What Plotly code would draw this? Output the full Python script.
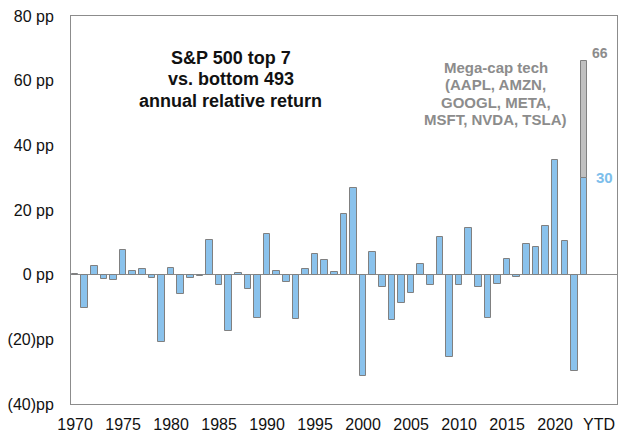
import plotly.graph_objects as go

# S&P 500 top 7 vs bottom 493, annual relative return (pp)
years = list(range(1970, 2023))
rel_return = [
    0.3, -10.4, 2.6, -1.3, -1.7, 7.7, 1.1, 1.7, -1.0, -20.7,
    2.2, -5.9, -0.9, -0.3, 10.8, -3.3, -17.5, 0.5, -4.3, -13.4,
    12.7, 1.0, -2.4, -13.6, 1.9, 6.5, 4.5, 0.7, 18.8, 26.9,
    -31.2, 7.0, -3.8, -14.1, -8.8, -5.6, 3.3, -3.2, 11.6, -25.5,
    -3.2, 14.3, -3.7, -13.5, -3.0, 4.9, -0.6, 9.5, 8.7, 15.1,
    35.6, 10.4, -29.7,
]
ytd_pos = 2023
ytd_blue = 30
ytd_total = 66

y_ticks = [80, 60, 40, 20, 0, -20, -40]
y_labels = ["80 pp", "60 pp", "40 pp", "20 pp", "0 pp", "(20)pp", "(40)pp"]
x_ticks = list(range(1970, 2021, 5))

title_lines = ["S&P 500 top 7", "vs. bottom 493", "annual relative return"]
note_lines = ["Mega-cap tech", "(AAPL, AMZN,", "GOOGL, META,", "MSFT, NVDA, TSLA)"]

BLUE = "#8AC2EC"
GRAY_BAR = "#C0C0C0"
EDGE = "#808080"
TXT_GRAY = "#8C8C8C"
FONT = "Arial, Liberation Sans, sans-serif"

fig = go.Figure()

fig.add_trace(go.Bar(
    x=years + [ytd_pos],
    y=rel_return + [ytd_blue],
    width=0.68,
    marker=dict(color=BLUE, line=dict(color=EDGE, width=1)),
    showlegend=False,
))
fig.add_trace(go.Bar(
    x=[ytd_pos],
    y=[ytd_total - ytd_blue],
    width=0.68,
    marker=dict(color=GRAY_BAR, line=dict(color=EDGE, width=1)),
    showlegend=False,
))

# value labels on YTD bar
fig.add_annotation(x=ytd_pos, y=ytd_total, text="<b>66</b>", showarrow=False,
                   xshift=16, yshift=8, font=dict(family=FONT, size=14, color=TXT_GRAY))
fig.add_annotation(x=ytd_pos, y=ytd_blue, text="<b>30</b>", showarrow=False,
                   xshift=21, yshift=0, font=dict(family=FONT, size=15, color="#7DBEEB"))

# text blocks, one annotation per line so the spacing matches
for i, line in enumerate(note_lines):
    fig.add_annotation(xref="paper", yref="paper", x=0.778, y=0.867 - i * 0.0446,
                       xanchor="center", yanchor="middle",
                       text="<b>" + line + "</b>", showarrow=False,
                       font=dict(family=FONT, size=15, color=TXT_GRAY))

for i, line in enumerate(title_lines):
    fig.add_annotation(xref="paper", yref="paper", x=0.293, y=0.891 - i * 0.0545,
                       xanchor="center", yanchor="middle",
                       text="<b>" + line.replace("&", "&amp;") + "</b>", showarrow=False,
                       font=dict(family=FONT, size=18, color="#111111"))

# YTD tick label sits a little right of the bar
fig.add_annotation(x=ytd_pos + 1.55, y=0, yref="paper", yanchor="top", yshift=-10,
                   text="YTD", showarrow=False,
                   font=dict(family=FONT, size=16, color="#111111"))

fig.update_layout(
    width=618, height=433,
    margin=dict(l=71, r=1, t=16, b=29),
    plot_bgcolor="white", paper_bgcolor="white",
    barmode="relative",
    bargap=0,
    font=dict(family=FONT, size=16, color="#111111"),
)
fig.update_xaxes(
    range=[1969.58, 2026.44],
    tickvals=x_ticks, ticktext=[str(v) for v in x_ticks],
    showgrid=False, zeroline=False,
    showline=True, linecolor=TXT_GRAY, linewidth=1, mirror=True,
    ticks="", ticklabelstandoff=6,
    tickfont=dict(family=FONT, size=16, color="#111111"),
)
fig.update_yaxes(
    range=[-40, 80],
    tickvals=y_ticks, ticktext=y_labels,
    showgrid=False,
    zeroline=True, zerolinecolor=TXT_GRAY, zerolinewidth=1,
    showline=True, linecolor=TXT_GRAY, linewidth=1, mirror=True,
    ticks="outside", ticklen=13, tickcolor="rgba(0,0,0,0)",
    tickfont=dict(family=FONT, size=16, color="#111111"),
)

fig.write_html("out.html", config={"displayModeBar": False},
               post_script="document.body.style.margin='0';")
